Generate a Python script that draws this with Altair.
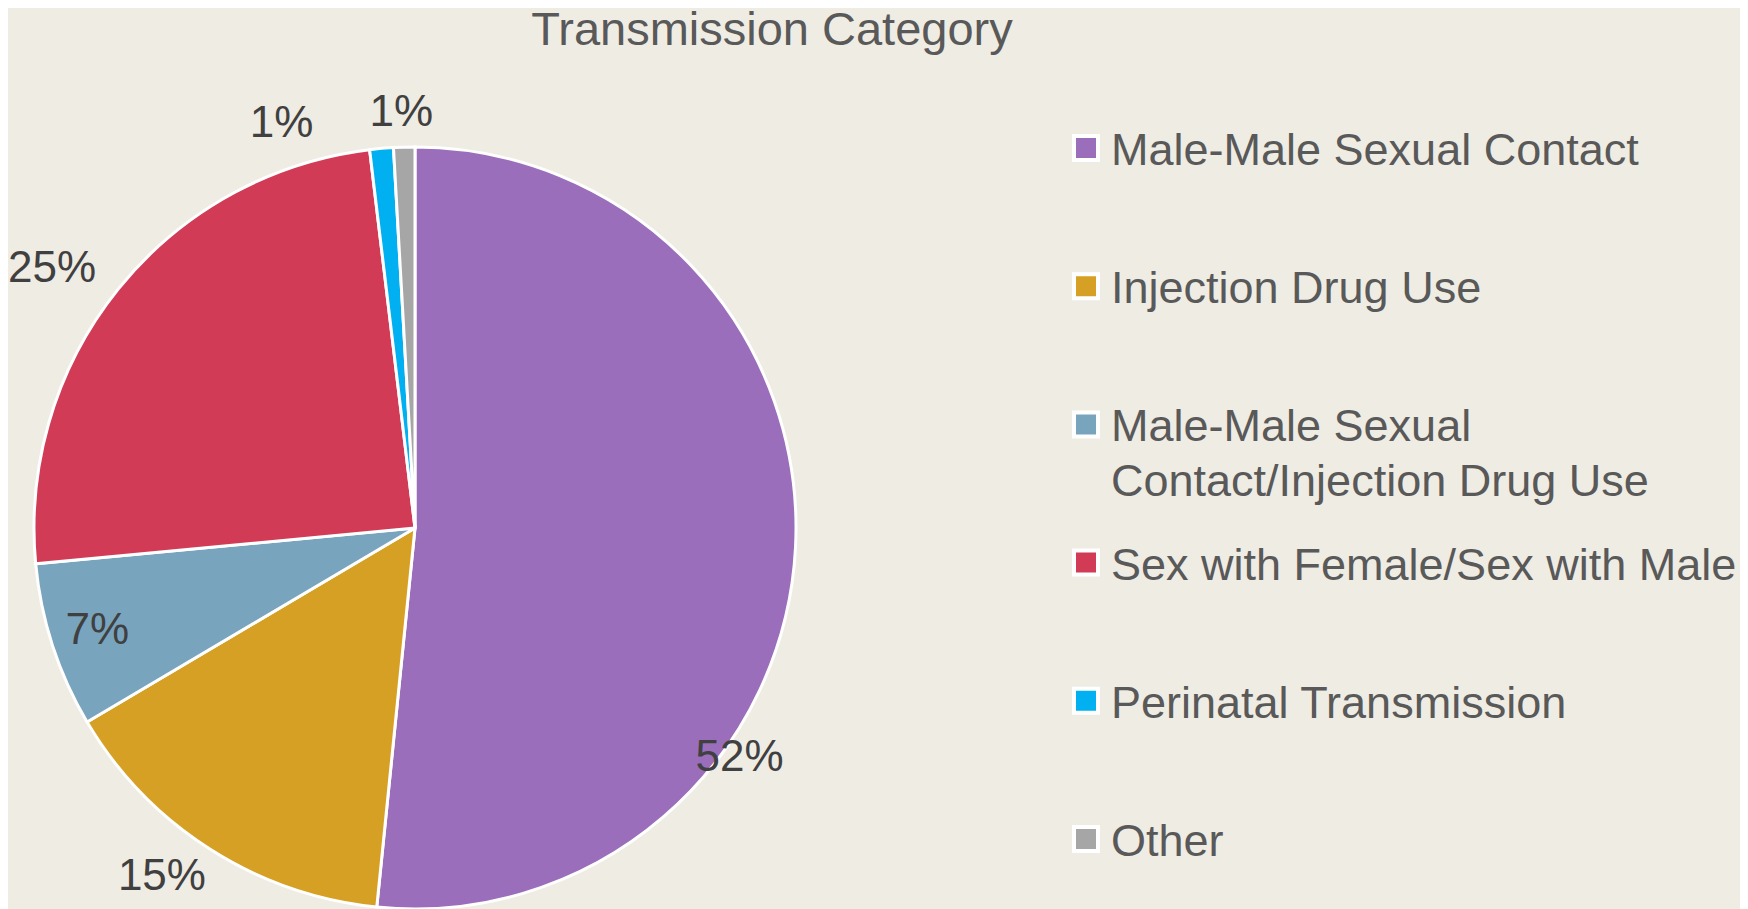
import altair as alt
import pandas as pd

# ---- data ----
categories = [
    "Male-Male Sexual Contact",
    "Injection Drug Use",
    "Male-Male Sexual Contact/Injection Drug Use",
    "Sex with Female/Sex with Male",
    "Perinatal Transmission",
    "Other",
]
legend_labels = [
    "Male-Male Sexual Contact",
    "Injection Drug Use",
    "Male-Male Sexual\nContact/Injection Drug Use",
    "Sex with Female/Sex with Male",
    "Perinatal Transmission",
    "Other",
]
values = [51.6, 14.9, 7.0, 24.6, 1.0, 0.9]
pct_labels = ["52%", "15%", "7%", "25%", "1%", "1%"]
colors = ["#9B6EBB", "#D6A024", "#78A4BE", "#D13B56", "#00B0F0", "#A6A6A6"]
title_text = "Transmission Category"

df = pd.DataFrame({
    "category": categories,
    "legend": legend_labels,
    "value": values,
    "label": pct_labels,
    "idx": list(range(len(categories))),
})
total = sum(values)

FONT = "Liberation Sans"
TEXT_COL = "#595959"
LABEL_COL = "#404040"
CX, CY, R = 407, 520, 381

color_scale = alt.Scale(domain=categories, range=colors)
base = alt.Chart(df)

pie = base.mark_arc(radius=R, stroke="white", strokeWidth=3).encode(
    theta=alt.Theta("value:Q", stack=True, scale=alt.Scale(domain=[0, total])),
    color=alt.Color("category:N", scale=color_scale, legend=None),
    order=alt.Order("idx:Q"),
    x=alt.value(CX),
    y=alt.value(CY),
)

# label placement styling per slice: (radius, dx, dy)
label_style = [(397, -72, 210), (431, -21, -14), (334, 0, 0), (447, -15, 22), (427, -96, 21), (416, -2, 1)]

lbl_base = base.transform_stack(
    stack="value", groupby=[], as_=["v0", "v1"], sort=[alt.SortField("idx", order="ascending")]
).transform_calculate(mid="(datum.v0 + datum.v1) / 2")

label_layers = []
for i, (r, dx, dy) in enumerate(label_style):
    label_layers.append(
        lbl_base.transform_filter(alt.datum.idx == i)
        .mark_text(radius=r, dx=dx, dy=dy, fontSize=44, font=FONT, color=LABEL_COL,
                   align="center", baseline="middle")
        .encode(
            theta=alt.Theta("mid:Q", stack=False),
            text="label:N",
            x=alt.value(CX),
            y=alt.value(CY),
        )
    )

leg_y = alt.Y(
    "category:N",
    sort=categories,
    scale=alt.Scale(type="point", domain=categories, range=[140, 831], padding=0),
    axis=None,
)

squares = base.mark_square(size=576, stroke="white", strokeWidth=4, opacity=1, filled=True).encode(
    x=alt.value(1078),
    y=leg_y,
    color=alt.Color("category:N", scale=color_scale, legend=None),
)

leg_text = base.mark_text(
    align="left", baseline="alphabetic", dy=17, fontSize=45, lineBreak="\n", lineHeight=55,
    color=TEXT_COL, font=FONT,
).encode(
    x=alt.value(1103),
    y=leg_y,
    text="legend:N",
)

title = alt.Chart(pd.DataFrame({"t": [title_text]})).mark_text(
    align="center", baseline="alphabetic", fontSize=47, font=FONT, color=TEXT_COL
).encode(x=alt.value(764), y=alt.value(37), text="t:N")

chart = alt.layer(pie, *label_layers, squares, leg_text, title).properties(
    width=1732,
    height=901,
    autosize=alt.AutoSizeParams(type="none"),
    padding=0,
    background="#EFECE4",
).configure_view(stroke=None)

chart.save("out.html", embed_options={"renderer": "svg", "actions": False})
